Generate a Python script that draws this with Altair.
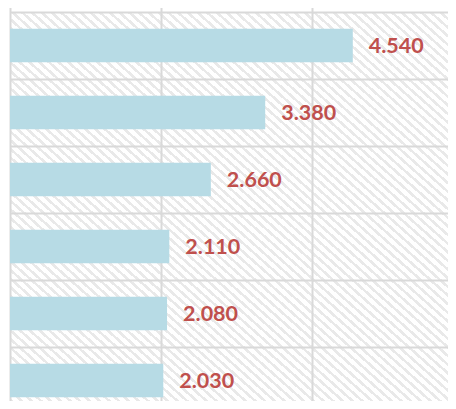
import altair as alt
import pandas as pd

categories = ["Item 1", "Item 2", "Item 3", "Item 4", "Item 5", "Item 6"]
values = [4.54, 3.38, 2.66, 2.11, 2.08, 2.03]
grid_values = [0, 2, 4, 6]

df = pd.DataFrame({"category": categories, "value": values})

# diagonal hatch for the plot background, as a hard-stop linear gradient
n_stripes = 90
stop_parts = []
for i in range(n_stripes):
    a = i / n_stripes
    b = (i + 0.4) / n_stripes
    c = (i + 1) / n_stripes
    stop_parts.append(f"{{offset:{a:.5f},color:'#e9e9e9'}}")
    stop_parts.append(f"{{offset:{b:.5f},color:'#e9e9e9'}}")
    stop_parts.append(f"{{offset:{b:.5f},color:'#ffffff'}}")
    stop_parts.append(f"{{offset:{c:.5f},color:'#ffffff'}}")
hatch_expr = "{gradient:'linear',x1:0,y1:1,x2:1,y2:0,stops:[" + ",".join(stop_parts) + "]}"

grid_color = "#d9d9d9"

x_enc = alt.X(
    "value:Q",
    scale=alt.Scale(domain=[0, 5.801], nice=False, zero=True),
    axis=alt.Axis(values=grid_values, grid=True, labels=False, ticks=False,
                  domain=False, title=None, gridColor=grid_color, gridWidth=2),
)
y_enc = alt.Y(
    "category:N",
    sort=categories,
    scale=alt.Scale(paddingInner=0, paddingOuter=0, range=[0, 402]),
    axis=alt.Axis(grid=True, tickBand="extent", labels=False, ticks=False,
                  domain=False, title=None, gridColor=grid_color, gridWidth=2),
)

base = alt.Chart(df).encode(x=x_enc, y=y_enc)

bars = base.mark_bar(color="#b7dbe5", size=33.5)
labels = base.mark_text(
    align="left", baseline="middle", dx=16, dy=1.5, font="Lato", fontSize=21.5,
    fontWeight="bold", color="#c0504d",
).encode(text=alt.Text("value:Q", format=".3f"))

chart = (
    alt.layer(bars, labels)
    .properties(
        width=438,
        height=389,
        autosize=alt.AutoSizeParams(type="none"),
        padding={"left": 2, "top": 4, "right": 0, "bottom": 0},
    )
    .configure_view(fill={"expr": hatch_expr}, strokeWidth=0)
)

chart.save("out.html", embed_options={"renderer": "svg", "actions": False})
